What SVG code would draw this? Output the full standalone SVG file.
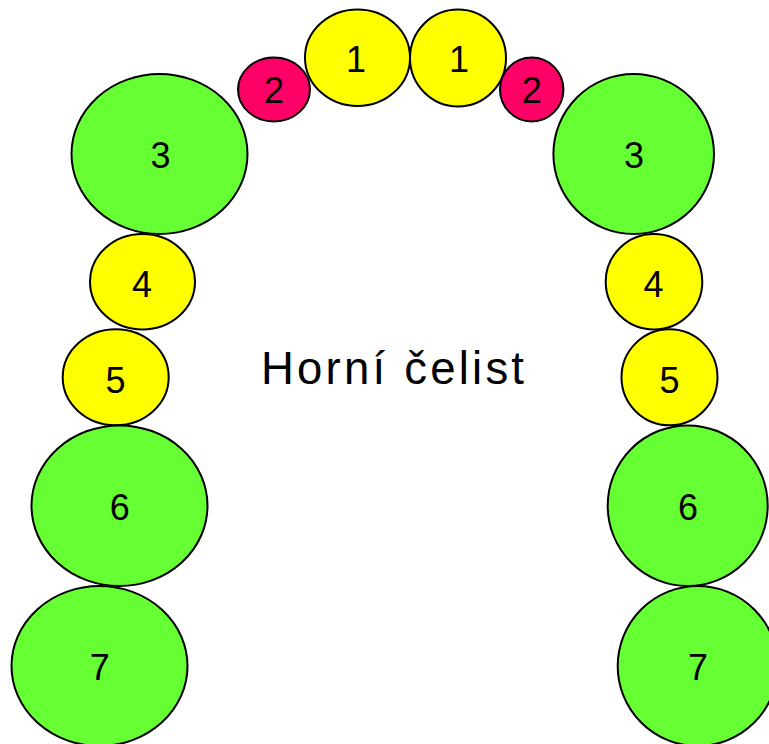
<svg xmlns="http://www.w3.org/2000/svg" width="769" height="744" viewBox="0 0 769 744">
<style>
.t{stroke:#000;stroke-width:2}
.y{fill:#FFFF00}
.g{fill:#66FF33}
.p{fill:#FF0066}
.n{font-family:"Liberation Sans",Arial,sans-serif;font-size:36px;fill:#000;text-anchor:middle}
.title{font-family:"Liberation Sans",Arial,sans-serif;font-size:45.5px;fill:#000}
</style>
<rect width="769" height="744" fill="#fff"/>
<g id="L1"><ellipse class="t y" cx="357.5" cy="57.7" rx="52.5" ry="48.3"/><text class="n" x="356" y="72">1</text></g>
<g id="R1"><ellipse class="t y" cx="458" cy="58" rx="48" ry="48.5"/><text class="n" x="459" y="72">1</text></g>
<g id="L2"><ellipse class="t p" cx="274" cy="89.5" rx="36" ry="32"/><text class="n" x="274" y="103">2</text></g>
<g id="R2"><ellipse class="t p" cx="531.7" cy="89.5" rx="31.7" ry="32"/><text class="n" x="531.7" y="103">2</text></g>
<g id="L3"><ellipse class="t g" cx="159.5" cy="154" rx="88" ry="80"/><text class="n" x="160.5" y="167.5">3</text></g>
<g id="R3"><ellipse class="t g" cx="633.7" cy="154" rx="80.3" ry="80"/><text class="n" x="634" y="168">3</text></g>
<g id="L4"><ellipse class="t y" cx="142.5" cy="281.7" rx="52.5" ry="47.7"/><text class="n" x="142" y="297">4</text></g>
<g id="R4"><ellipse class="t y" cx="654" cy="281.7" rx="48.3" ry="47.7"/><text class="n" x="653.5" y="297">4</text></g>
<g id="L5"><ellipse class="t y" cx="115.7" cy="377.3" rx="53" ry="48"/><text class="n" x="115.5" y="392.5">5</text></g>
<g id="R5"><ellipse class="t y" cx="669.5" cy="377.3" rx="48" ry="48"/><text class="n" x="669.5" y="392.5">5</text></g>
<g id="L6"><ellipse class="t g" cx="119.5" cy="505.7" rx="88" ry="80.3"/><text class="n" x="119.7" y="519.5">6</text></g>
<g id="R6"><ellipse class="t g" cx="687.7" cy="505.7" rx="80" ry="80.3"/><text class="n" x="688" y="519.5">6</text></g>
<g id="L7"><ellipse class="t g" cx="99.5" cy="666" rx="88" ry="80"/><text class="n" x="99.7" y="680">7</text></g>
<g id="R7"><ellipse class="t g" cx="697.7" cy="666" rx="80" ry="80"/><text class="n" x="698" y="680">7</text></g>
<g id="connectors"></g>
<text class="title" x="261" y="384.3" textLength="263" lengthAdjust="spacing">Horní čelist</text>
</svg>
